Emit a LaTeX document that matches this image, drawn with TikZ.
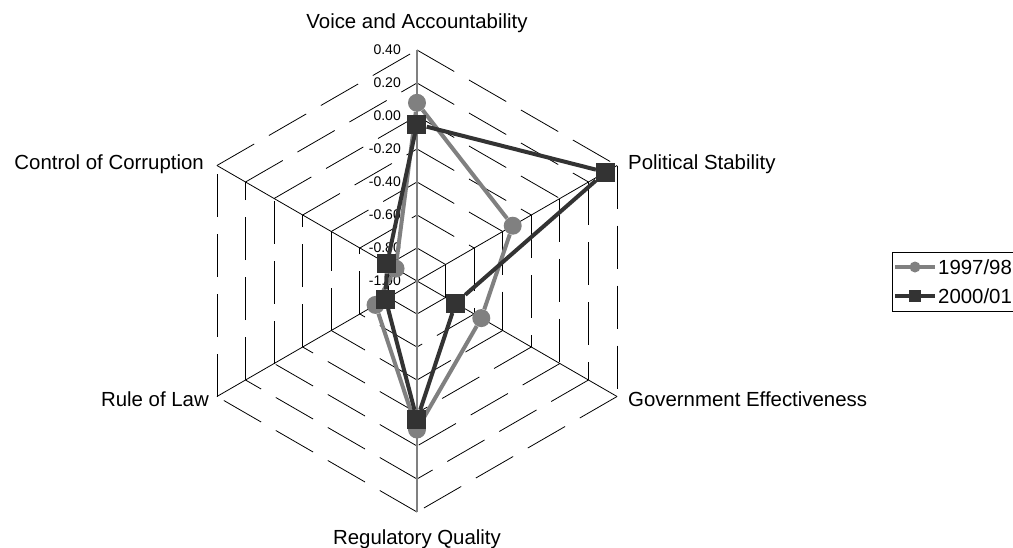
\documentclass[tikz,border=0pt]{standalone}
\usepackage{fontspec}
\setmainfont{Liberation Sans}
\usetikzlibrary{positioning}
\definecolor{oldgrey}{gray}{0.5}
\definecolor{newgrey}{gray}{0.2}

\begin{document}
\begin{tikzpicture}[x=1pt,y=1pt]
\tikzstyle{ring}=[draw=black,line width=0.8pt,dash pattern=on 43pt off 17pt]
\tikzstyle{spoke}=[draw=black,line width=0.8pt]
\tikzstyle{valaxis}=[draw=oldgrey,line width=1.5pt]
\tikzstyle{tick}=[font=\fontsize{14}{16}\selectfont,anchor=east,inner sep=0pt]
\tikzstyle{axlabel}=[font=\fontsize{20.4}{24}\selectfont,inner sep=0pt]
\tikzstyle{oldline}=[draw=oldgrey,line width=4pt]
\tikzstyle{newline}=[draw=newgrey,line width=4pt]
\tikzstyle{olddot}=[circle,fill=oldgrey,minimum size=18pt,inner sep=0pt]
\tikzstyle{newbox}=[rectangle,fill=newgrey,minimum size=19pt,inner sep=0pt]
\useasboundingbox (-417,-266) rectangle (596,281);

% rings, every edge on its own so the dashes start at the corners
\foreach \k in {1,...,7}
  \foreach \a in {90,30,-30,-90,-150,-210}
    \draw [ring] (\a:{33*\k}) -- ({\a-60}:{33*\k});

\coordinate (o) at (0,0);
\coordinate (vo) at (90:231);
\coordinate (pe) at (30:231);
\coordinate (ge) at (-30:231);
\coordinate (rq) at (-90:231);
\coordinate (rl) at (210:231);
\coordinate (cc) at (150:231);
\draw [spoke] (o) -- (pe);
\draw [spoke] (o) -- (ge);
\draw [spoke] (o) -- (rl);
\draw [spoke] (o) -- (cc);
\draw [valaxis] (o) -- (vo);
\draw [valaxis] (o) -- (rq);

\foreach \k/\v in {0/-1.00,1/-0.80,2/-0.60,3/-0.40,4/-0.20,5/0.00,6/0.20,7/0.40}
  \node [tick] (t\k) at (-16,{33*\k}) {\v};

\node [axlabel,anchor=base] (voice) at (0,252.5) {Voice and Accountability};
\node [axlabel,anchor=base west] (polstab) at (211,112) {Political Stability};
\node [axlabel,anchor=base west] (goveff) at (211,-125) {Government Effectiveness};
\node [axlabel,anchor=base] (regqual) at (0,-263.5) {Regulatory Quality};
\node [axlabel,anchor=base east] (rulelaw) at (-208,-125) {Rule of Law};
\node [axlabel,anchor=base east] (corrupt) at (-213,112) {Control of Corruption};

% 1997/98
\node [olddot] (a1) at (90:{(1+0.08)*165}) {};
\node [olddot] (a2) at (30:{(1-0.33)*165}) {};
\node [olddot] (a3) at (-30:{(1-0.55)*165}) {};
\node [olddot] (a4) at (-90:{(1-0.10)*165}) {};
\node [olddot] (a5) at (210:{(1-0.71)*165}) {};
\node [olddot] (a6) at (150:{(1-0.85)*165}) {};
\draw [oldline] (a1) -- (a2) -- (a3) -- (a4) -- (a5) -- (a6) -- (a1);

% 2000/01
\node [newbox] (b1) at (90:{(1-0.05)*165}) {};
\node [newbox] (b2) at (30:{(1+0.32)*165}) {};
\node [newbox] (b3) at (-30:{(1-0.73)*165}) {};
\node [newbox] (b4) at (-90:{(1-0.16)*165}) {};
\node [newbox] (b5) at (210:{(1-0.78)*165}) {};
\node [newbox] (b6) at (150:{(1-0.79)*165}) {};
\draw [newline] (b1) -- (b2) -- (b3) -- (b4) -- (b5) -- (b6) -- (b1);

% legend
\node [draw=black,line width=0.8pt,anchor=north west,minimum width=128pt,minimum height=59pt,inner sep=0pt] (legend) at (474.7,29) {};
\coordinate (l1w) at (478,14);
\coordinate (l1e) at (518,14);
\draw [oldline] (l1w) -- (l1e);
\node [olddot,minimum size=11pt] (l1m) at (498,14) {};
\node [axlabel,anchor=base west] (l1t) at (521,6.7) {1997/98};
\coordinate (l2w) at (478,-15);
\coordinate (l2e) at (518,-15);
\draw [newline] (l2w) -- (l2e);
\node [newbox,minimum size=12pt] (l2m) at (498,-15) {};
\node [axlabel,anchor=base west] (l2t) at (521,-22.3) {2000/01};
\end{tikzpicture}
\end{document}
